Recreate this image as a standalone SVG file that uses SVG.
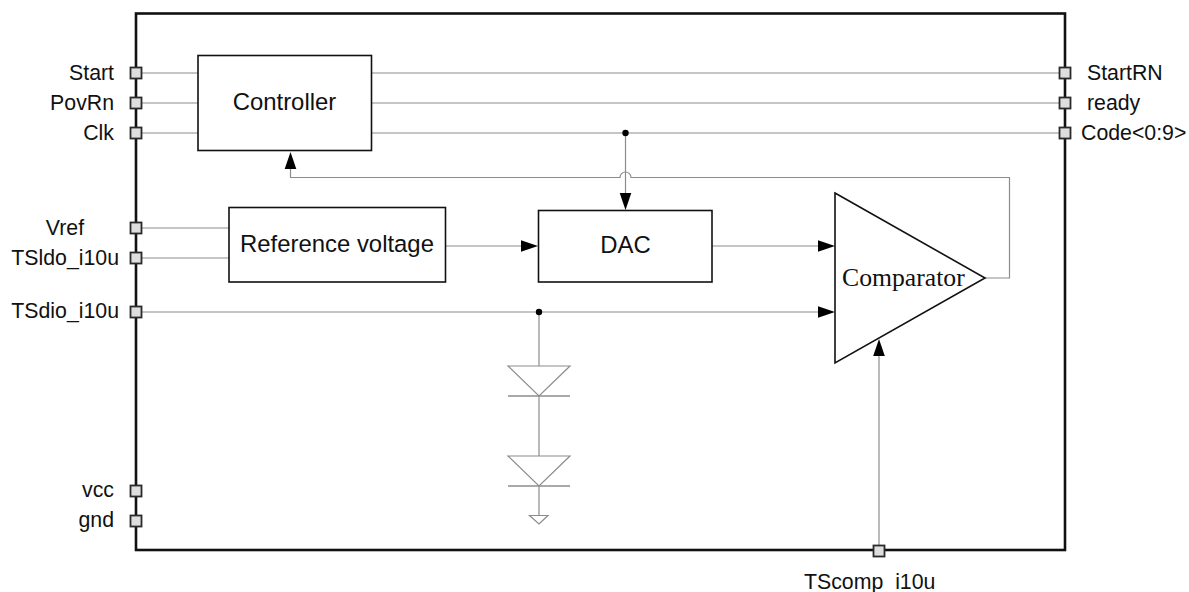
<svg xmlns="http://www.w3.org/2000/svg" width="1189" height="592" viewBox="0 0 1189 592">
<style>
text{font-family:"Liberation Sans",Arial,sans-serif;fill:#111;font-size:21.3px}
.t{font-size:23.9px}
.r{text-anchor:end}
.c{text-anchor:middle}
.box{fill:#fff;stroke:#111;stroke-width:1.6}
.pin{fill:#dedede;stroke:#2a2a2a;stroke-width:1.8}
.w{fill:none;stroke:#8c8c8c;stroke-width:1.2}
.a{fill:#000;stroke:none}
</style>
<defs>
<rect id="p" class="pin" x="-5.500" y="-5.500" width="11" height="11"/>
<polygon id="ah" class="a" points="0,0 -17,-5.800 -17,5.800"/>
<g id="dio"><polygon points="-31,0 31,0 0,30" fill="#fff" stroke="#8c8c8c" stroke-width="1.200"/><line x1="-31" y1="30" x2="31" y2="30" stroke="#8c8c8c" stroke-width="1.300"/></g>
</defs>
<rect id="frame" x="136" y="13.500" width="929" height="536.500" fill="#fff" stroke="#111" stroke-width="2.600"/>
<g id="connectors">
<path class="w" d="M142 73H198M142 103H198M142 133H198M371 73H1060M371 103H1060M371 133H1060"/>
<path class="w" d="M142 228H229M142 258H229"/>
<path class="w" d="M142 312H820"/>
<path class="w" d="M625.500 133V195"/>
<path class="w" d="M985 278H1009.500V177.500H631a5.500 5.500 0 0 0-11 0H290.500V165"/>
<path class="w" d="M445 246H525M712 246H820"/>
<path class="w" d="M879 545V350"/>
<path class="w" d="M539 312V366M539 396V456M539 486V515.500"/>
<circle class="a" cx="625.500" cy="133" r="3.200"/>
<circle class="a" cx="539" cy="312" r="3.200"/>
<use href="#ah" transform="translate(290.500 152) rotate(-90)"/>
<use href="#ah" transform="translate(625.500 210) rotate(90)"/>
<use href="#ah" transform="translate(538 246)"/>
<use href="#ah" transform="translate(835 246)"/>
<use href="#ah" transform="translate(835 312)"/>
<use href="#ah" transform="translate(879 339) rotate(-90)"/>
</g>
<g id="controller"><rect class="box" x="198" y="55.500" width="173.500" height="95"/><text class="t c" x="284.500" y="110">Controller</text></g>
<g id="reference"><rect class="box" x="229" y="207.500" width="216.500" height="74.500"/><text class="t c" x="337" y="252">Reference voltage</text></g>
<g id="dac"><rect class="box" x="538.500" y="210.500" width="173.500" height="71.500"/><text class="t c" x="625.500" y="253">DAC</text></g>
<g id="comparator"><polygon class="box" points="835,193 985,278 835,363"/><text x="842" y="286" style="font-family:'Liberation Serif','Times New Roman',serif;font-size:25.700px">Comparator</text></g>
<g id="diodes"><use href="#dio" x="539" y="366"/><use href="#dio" x="539" y="456"/><polygon points="529.500,515.500 548,515.500 539,524" fill="#fff" stroke="#8c8c8c" stroke-width="1.200"/></g>
<g id="pin-start"><use href="#p" x="136" y="73"/><text class="r" x="114" y="79.500">Start</text></g>
<g id="pin-povrn"><use href="#p" x="136" y="103"/><text class="r" x="114" y="109.500">PovRn</text></g>
<g id="pin-clk"><use href="#p" x="136" y="133"/><text class="r" x="114" y="139.500">Clk</text></g>
<g id="pin-vref"><use href="#p" x="136" y="228"/><text class="c" x="65" y="234.500">Vref</text></g>
<g id="pin-tsldo"><use href="#p" x="136" y="258"/><text class="r" x="119" y="264.500">TSldo_i10u</text></g>
<g id="pin-tsdio"><use href="#p" x="136" y="312"/><text class="r" x="119" y="318">TSdio_i10u</text></g>
<g id="pin-vcc"><use href="#p" x="136" y="491"/><text class="r" x="114" y="497">vcc</text></g>
<g id="pin-gnd"><use href="#p" x="136" y="521"/><text class="r" x="114" y="527">gnd</text></g>
<g id="pin-startrn"><use href="#p" x="1065" y="73"/><text x="1087" y="79.500">StartRN</text></g>
<g id="pin-ready"><use href="#p" x="1065" y="103"/><text x="1087" y="109.500">ready</text></g>
<g id="pin-code"><use href="#p" x="1065" y="133"/><text x="1081" y="139.500">Code&lt;0:9&gt;</text></g>
<g id="pin-tscomp"><use href="#p" x="879" y="551"/><text x="804" y="589">TScomp_i10u</text></g>
</svg>
